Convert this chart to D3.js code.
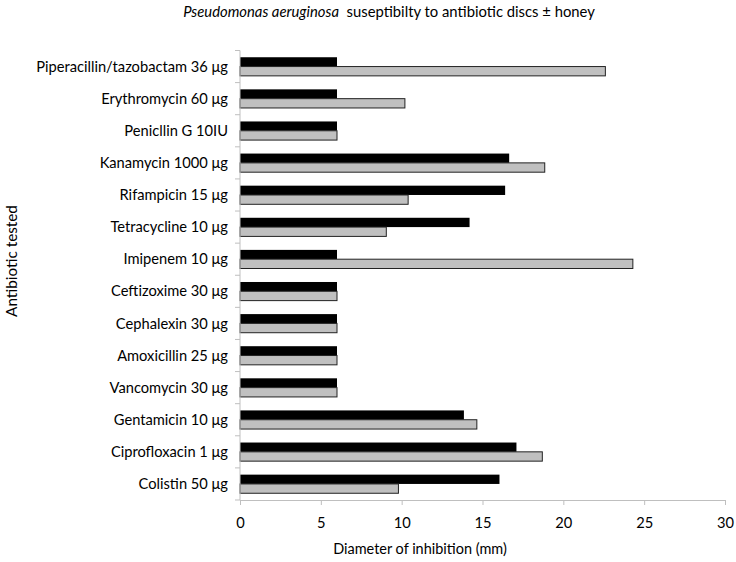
<!DOCTYPE html>
<html>
<head>
<meta charset="utf-8">
<script src="https://cdn.jsdelivr.net/npm/d3@7"></script>
<style>
  body { margin: 0; background: #fff; }
  svg { display: block; }
  text { font-family: Lato, "Open Sans", sans-serif; fill: #000; }
</style>
</head>
<body>
<svg id="chart" width="736" height="562"></svg>
<script>
const categories = [
  "Piperacillin/tazobactam 36 μg",
  "Erythromycin 60 μg",
  "Penicllin G 10IU",
  "Kanamycin 1000 μg",
  "Rifampicin 15 μg",
  "Tetracycline 10 μg",
  "Imipenem 10 μg",
  "Ceftizoxime 30 μg",
  "Cephalexin 30 μg",
  "Amoxicillin 25 μg",
  "Vancomycin 30 μg",
  "Gentamicin 10 μg",
  "Ciprofloxacin 1 μg",
  "Colistin 50 μg"
];
const seriesBlack = [6, 6, 6, 16.65, 16.4, 14.2, 6, 6, 6, 6, 6, 13.85, 17.1, 16.05];
const seriesGray  = [22.6, 10.2, 6, 18.85, 10.4, 9.05, 24.3, 6, 6, 6, 6, 14.65, 18.7, 9.8];
const xTicks = [0, 5, 10, 15, 20, 25, 30];

const svg = d3.select("#chart");
const mLeft = 240, mRight = 725, mTop = 50.5, mBottom = 500;

function fitWidth(sel, target) {
  const fs = parseFloat(sel.attr("font-size"));
  const w = sel.node().getComputedTextLength();
  sel.attr("font-size", fs * target / w);
  return fs * target / w;
}

const x = d3.scaleLinear().domain([0, 30]).range([mLeft, mRight]);
const y = d3.scaleBand().domain(categories).range([mTop, mBottom]).paddingInner(0.42).paddingOuter(0.21);
const sub = d3.scaleBand().domain(["black", "gray"]).range([0, y.bandwidth()]);

// Bars
const g = svg.append("g");
categories.forEach((c, i) => {
  g.append("rect")
    .attr("x", x(0)).attr("y", y(c) + sub("black"))
    .attr("width", x(seriesBlack[i]) - x(0)).attr("height", sub.bandwidth())
    .attr("fill", "#000");
  g.append("rect")
    .attr("x", x(0)).attr("y", y(c) + sub("gray"))
    .attr("width", x(seriesGray[i]) - x(0)).attr("height", sub.bandwidth())
    .attr("fill", "#c0c0c0").attr("stroke", "#222").attr("stroke-width", 1);
});

// Left axis line & category ticks
const axisColor = "#bfbfbf";
svg.append("line").attr("x1", mLeft).attr("x2", mLeft).attr("y1", mTop).attr("y2", mBottom)
  .attr("stroke", axisColor);
d3.range(categories.length + 1).forEach(k => {
  const yy = mTop + k * (mBottom - mTop) / categories.length;
  svg.append("line").attr("x1", mLeft - 5).attr("x2", mLeft).attr("y1", yy).attr("y2", yy)
    .attr("stroke", axisColor);
});

// Category labels
const labels = svg.append("g").selectAll("text").data(categories).join("text")
  .attr("x", 228).attr("y", d => y(d) + y.bandwidth() / 2)
  .attr("dy", "0.35em").attr("text-anchor", "end")
  .attr("font-size", 14)
  .text(d => d);
const labFs = fitWidth(labels.filter((d, i) => i === 0), 192);
labels.attr("font-size", labFs);

// Bottom axis
const xAxis = d3.axisBottom(x).tickValues(xTicks).tickSize(5).tickPadding(13);
const ax = svg.append("g").attr("transform", `translate(0,${mBottom})`).call(xAxis);
ax.select(".domain").attr("stroke", axisColor);
ax.selectAll(".tick line").attr("stroke", axisColor);
ax.selectAll(".tick text").attr("font-size", labFs).attr("font-family", "Lato, sans-serif").attr("fill", "#000");

// Axis titles
const xt = svg.append("text").attr("x", 420).attr("y", 554).attr("text-anchor", "middle")
  .attr("font-size", 14).text("Diameter of inhibition (mm)");
fitWidth(xt, 174);
const yt = svg.append("text").attr("transform", "translate(17,261) rotate(-90)").attr("text-anchor", "middle")
  .attr("font-size", 14).text("Antibiotic tested");
fitWidth(yt, 112);

// Title
const title = svg.append("text").attr("x", 389).attr("y", 17).attr("text-anchor", "middle")
  .attr("font-size", 14);
title.append("tspan").attr("font-style", "italic").text("Pseudomonas aeruginosa");
title.append("tspan").attr("xml:space", "preserve").style("white-space", "pre").text("  suseptibilty to antibiotic discs ± honey");
fitWidth(title, 412);
</script>
</body>
</html>
